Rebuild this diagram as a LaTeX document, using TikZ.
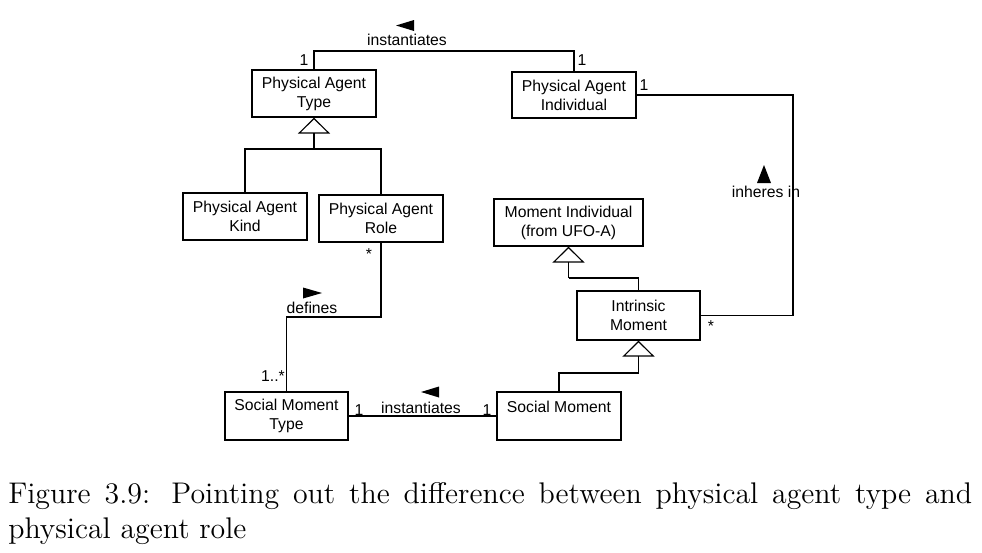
\documentclass[tikz,border=0pt]{standalone}
\usepackage{fontspec}
\newfontfamily\diag{Liberation Sans}
\newfontfamily\capfont{lmroman12-regular}[Extension=.otf]
\usetikzlibrary{arrows.meta}
\begin{document}
\begin{tikzpicture}[x=0.75pt,y=-0.75pt,
  box/.style={draw, line width=0.9pt, inner sep=0pt, align=center,
    font=\diag\fontsize{11.8}{14.25}\selectfont},
  lbl/.style={inner sep=0pt, font=\diag\fontsize{11.8}{14.25}\selectfont},
  conn/.style={line width=0.9pt},
  gen/.style={line width=0.9pt, -{Triangle[open,length=12pt,width=24pt]}},
  dirtri/.style={fill=black}]
\useasboundingbox (0,0) rectangle (982,553);

% classes
\node[box, minimum width=93pt, minimum height=35.25pt] (type) at (314,93.5) {Physical Agent\\Type};
\node[box, minimum width=93pt, minimum height=34.5pt] (indiv) at (574,95) {Physical Agent\\Individual};
\node[box, minimum width=93pt, minimum height=35.25pt] (kind) at (245,216.5) {Physical Agent\\Kind};
\node[box, minimum width=93pt, minimum height=35.25pt] (role) at (381,218.5) {Physical Agent\\Role};
\node[box, minimum width=111.75pt, minimum height=35.25pt] (momind) at (568.5,222.5) {Moment Individual\\(from UFO-A)};
\node[box, minimum width=92.25pt, minimum height=36.75pt] (intr) at (638.5,315.5) {Intrinsic\\Moment};
\node[box, minimum width=92.25pt, minimum height=36pt] (smt) at (286.5,416) {Social Moment\\Type};
\node[box, minimum width=93pt, minimum height=36pt] (sm) at (559,416) {Social Moment\\\mbox{}};

% junction coordinates
\coordinate (topmid) at (440,51);
\coordinate (gj) at (314,149);
\coordinate (ir) at (793,200);
\coordinate (dj) at (330,317);
\coordinate (mj) at (568.5,278);
\coordinate (sj) at (638.5,373);

% instantiates (top)
\draw[conn] (type.north) |- (topmid) -| (indiv.north);
\node[lbl] (inst1) at (407,40) {instantiates};
\fill[dirtri] (396,25.5) -- (414,20) -- (414,31) -- cycle;
\node[lbl] (m1) at (304,60) {1};
\node[lbl] (m2) at (582,60) {1};

% generalization kind/role -> type
\draw[conn] (kind.north) |- (gj) -| (role.north);
\draw[gen] (gj) -- (type.south);

% inheres in
\draw[conn] (indiv.east) -| (ir) |- (intr.east);
\node[lbl] (inh) at (766,192) {inheres in};
\fill[dirtri] (764,165) -- (771,183) -- (757,183) -- cycle;
\node[lbl] (m3) at (644,85) {1};
\node[lbl] (m4) at (711,326) {*};

% defines
\draw[conn] (role.south) |- (dj) -| (smt.north);
\node[lbl] (def) at (312,308) {defines};
\fill[dirtri] (322,293) -- (303,287.5) -- (303,298.5) -- cycle;
\node[lbl] (m5) at (369,254) {*};
\node[lbl] (m6) at (273,376) {1..*};

% instantiates (bottom)
\draw[conn] (smt.east) -- (sm.west);
\node[lbl] (inst2) at (421,408) {instantiates};
\fill[dirtri] (421,392) -- (439,386.5) -- (439,397.5) -- cycle;
\node[lbl] (m7) at (359,410) {1};
\node[lbl] (m8) at (487,410) {1};

% generalizations of moments
\draw[conn] (intr.north) |- (mj);
\draw[gen] (mj) -- (momind.south);
\draw[conn] (sm.north) |- (sj);
\draw[gen] (sj) -- (intr.south);

% caption
\node[anchor=base west, inner sep=0pt] (cap) at (8,503) {\parbox[t]{723pt}{\capfont\fontsize{22.4}{26.25}\selectfont\hyphenpenalty=10000
Figure 3.9: Pointing out the difference between physical agent type and\linebreak physical agent role}};
\end{tikzpicture}
\end{document}
